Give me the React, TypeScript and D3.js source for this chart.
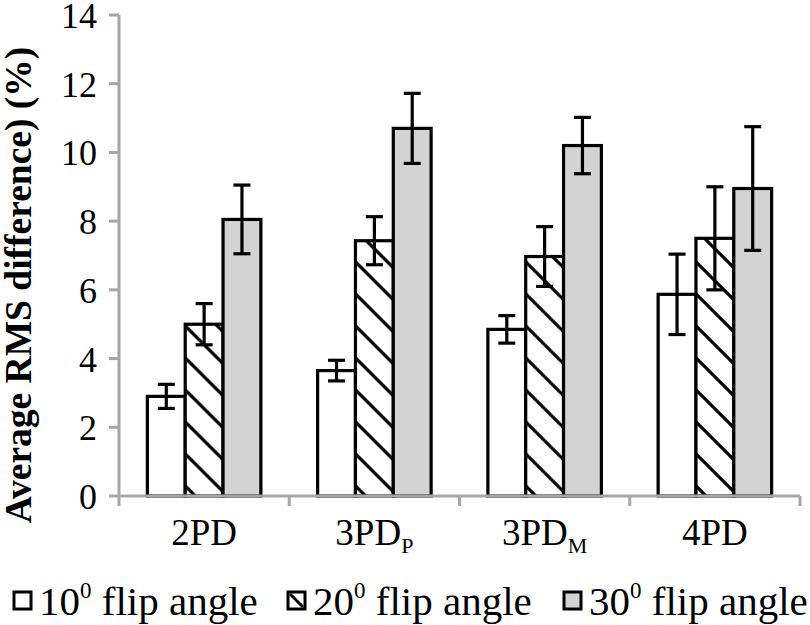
import React from "react";
import * as d3 from "d3";

const categories = ["2PD", "3PD_P", "3PD_M", "4PD"];
const seriesNames = ["10", "20", "30"];
const values10 = [2.9, 3.65, 4.85, 5.87];
const values20 = [5.0, 7.43, 6.97, 7.5];
const values30 = [8.05, 10.7, 10.2, 8.95];
const err10 = [0.35, 0.3, 0.4, 1.17];
const err20 = [0.6, 0.7, 0.87, 1.5];
const err30 = [1.0, 1.02, 0.82, 1.8];
const yTicks = [0, 2, 4, 6, 8, 10, 12, 14];

const W = 810, H = 625;
const X0 = 119, X1 = 800, Y0 = 496, Y1 = 15;

const fills = ["#ffffff", "url(#hatch)", "#d3d3d3"];
const FONT = "'Liberation Serif', serif";

export default function App() {
  const x = d3.scaleBand<string>().domain(categories).range([X0, X1]).paddingInner(1 / 3).paddingOuter(1 / 6);
  const xs = d3.scaleBand<string>().domain(seriesNames).range([0, x.bandwidth()]);
  const y = d3.scaleLinear().domain([0, 14]).range([Y0, Y1]);
  const step = (X1 - X0) / categories.length;
  const vals = [values10, values20, values30];
  const errs = [err10, err20, err30];

  const catLabel = (c: string) => {
    const [main, sub] = c.split("_");
    return (
      <>
        {main}
        {sub && <tspan fontSize={22} dy={8}>{sub}</tspan>}
      </>
    );
  };

  return (
    <svg width={W} height={H} style={{ position: "absolute", left: 0, top: 0, background: "#fff" }}>
      <defs>
        <pattern id="hatch" patternUnits="userSpaceOnUse" width={32} height={32}>
          <rect width={32} height={32} fill="#fff" />
          <path d="M-8,-8 L40,40 M-8,24 L8,40 M24,-8 L40,8" stroke="#000" strokeWidth={3.2} />
        </pattern>
      </defs>
      {/* y axis */}
      <line x1={X0} x2={X0} y1={Y1} y2={Y0} stroke="#a6a6a6" strokeWidth={3} />
      {yTicks.map((t) => (
        <g key={t}>
          <line x1={X0 - 10} x2={X0} y1={y(t)} y2={y(t)} stroke="#a6a6a6" strokeWidth={3} />
          <text x={X0 - 22} y={y(t)} dy="0.36em" textAnchor="end" fontFamily={FONT} fontSize={36}>
            {t}
          </text>
        </g>
      ))}
      {/* bars */}
      {categories.map((c, i) => (
        <g key={c} transform={`translate(${x(c)},0)`}>
          {seriesNames.map((s, j) => (
            <rect
              key={s}
              x={xs(s)}
              y={y(vals[j][i])}
              width={xs.bandwidth()}
              height={Y0 - y(vals[j][i])}
              fill={fills[j]}
              stroke="#000"
              strokeWidth={3.2}
            />
          ))}
          {seriesNames.map((s, j) => {
            const cx = (xs(s) as number) + xs.bandwidth() / 2;
            const v = vals[j][i], e = errs[j][i];
            return (
              <g key={"e" + s} stroke="#000" strokeWidth={3.2}>
                <line x1={cx} x2={cx} y1={y(v + e)} y2={y(v - e)} />
                <line x1={cx - 8.5} x2={cx + 8.5} y1={y(v + e)} y2={y(v + e)} />
                <line x1={cx - 8.5} x2={cx + 8.5} y1={y(v - e)} y2={y(v - e)} />
              </g>
            );
          })}
        </g>
      ))}
      {/* x axis */}
      <line x1={X0} x2={X1} y1={Y0} y2={Y0} stroke="#a6a6a6" strokeWidth={3} />
      {d3.range(categories.length + 1).map((k) => (
        <line key={k} x1={X0 + k * step} x2={X0 + k * step} y1={Y0} y2={Y0 + 10} stroke="#a6a6a6" strokeWidth={3} />
      ))}
      {categories.map((c) => (
        <text key={c} x={(x(c) as number) + x.bandwidth() / 2} y={545} textAnchor="middle" fontFamily={FONT} fontSize={37}>
          {catLabel(c)}
        </text>
      ))}
      {/* y title */}
      <text
        transform={`translate(31,${285}) rotate(-90)`}
        textAnchor="middle"
        fontFamily={FONT}
        fontWeight="bold"
        fontSize={37.5}
      >
        Average RMS difference) (%)
      </text>
      {/* legend */}
      {seriesNames.map((s, j) => {
        const lx = [14, 288, 564][j];
        return (
          <g key={s}>
            <rect x={lx} y={592} width={17} height={17} fill={j === 1 ? "#fff" : fills[j]} stroke="#000" strokeWidth={3} />
            {j === 1 && <line x1={lx + 2} y1={594} x2={lx + 15} y2={607} stroke="#000" strokeWidth={3} />}
            <text x={lx + 25} y={615} fontFamily={FONT} fontSize={41}>
              {s}
              <tspan fontSize={23} dy={-17}>0</tspan>
              <tspan dy={17}> flip angle</tspan>
            </text>
          </g>
        );
      })}
    </svg>
  );
}
